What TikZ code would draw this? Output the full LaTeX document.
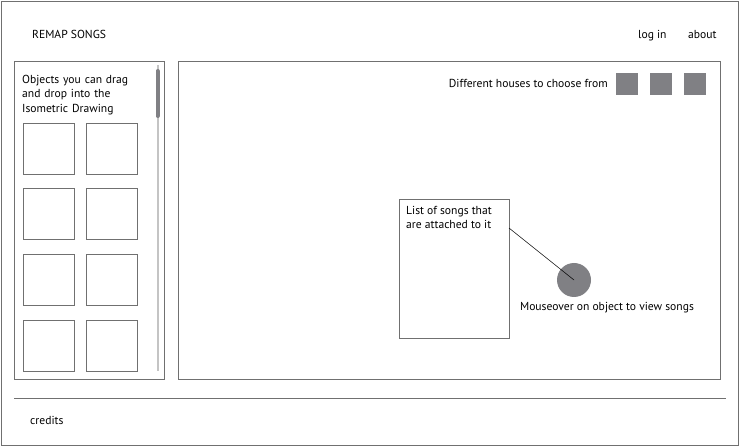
\documentclass[tikz,border=0pt]{standalone}
\usepackage{fontspec}
\setmainfont{PT Sans}
\usetikzlibrary{calc}
\definecolor{frame}{HTML}{707070}
\definecolor{fillg}{HTML}{808084}
\definecolor{track}{HTML}{C4C4C4}
\tikzset{
  box/.style={draw=frame, line width=0.9pt, inner sep=0pt, outer sep=0pt},
  slot/.style={box, minimum width=51pt, minimum height=51pt},
  house/.style={fill=fillg, inner sep=0pt, minimum width=22pt, minimum height=22pt},
  lbl/.style={inner sep=0pt, font=\fontsize{11.6}{14.5}\selectfont},
}
\begin{document}
\begin{tikzpicture}[x=1pt,y=-1pt]
\useasboundingbox (0,0) rectangle (740,446);
% outer frame
\node[box, anchor=north west, minimum width=737pt, minimum height=444pt] (outer) at (1,1) {};
% header texts
\node[lbl, anchor=base west] (title) at (32,39) {REMAP SONGS};
\node[lbl, anchor=base west] (login) at (638,39) {log in};
\node[lbl, anchor=base west] (about) at (688,39) {about};
% left panel
\node[box, anchor=north west, minimum width=150pt, minimum height=318pt] (left) at (14,61) {};
\node[lbl, anchor=north west, align=left, text width=130pt] (objtext) at (22,75) {Objects you can drag\\and drop into the\\Isometric Drawing};
% scrollbar
\coordinate (trtop) at (157.5,65);
\coordinate (trbot) at (157.5,371);
\draw[track, line width=2pt] (trtop) -- (trbot);
\draw[fillg, line width=4pt, line cap=round] (157.5,71) -- (157.5,116);
% slots
\foreach \r/\y in {1/123,2/188,3/254,4/320}{
  \node[slot, anchor=north west] (sa\r) at (23,\y) {};
  \node[slot, anchor=north west] (sb\r) at (86,\y) {};
}
% main panel
\node[box, anchor=north west, minimum width=542pt, minimum height=318pt] (main) at (178,61) {};
\node[lbl, anchor=base east] (houses) at (608,88) {Different houses to choose from};
\node[house, anchor=north west] (h1) at (616,73) {};
\node[house, anchor=north west] (h2) at (650,73) {};
\node[house, anchor=north west] (h3) at (684,73) {};
% list box
\node[box, anchor=north west, minimum width=110pt, minimum height=139pt] (list) at (399,199) {};
\node[lbl, anchor=north west, align=left] (listtext) at (406,206) {List of songs that\\are attached to it};
% object
\node[circle, fill=fillg, minimum size=34pt, inner sep=0pt] (dot) at (574,280) {};
\coordinate (lend) at ($(list.north east)+(0,29)$);
\draw[black, line width=0.5pt] (lend) -- (dot.center);
\node[lbl, anchor=center] (mouse) at (607,308) {Mouseover on object to view songs};
% footer
\coordinate (fl) at (14,398);
\coordinate (fr) at (726,398);
\draw[frame, line width=0.9pt] (fl) -- (fr);
\node[lbl, anchor=base west] (credits) at (30,425) {credits};
\end{tikzpicture}
\end{document}
